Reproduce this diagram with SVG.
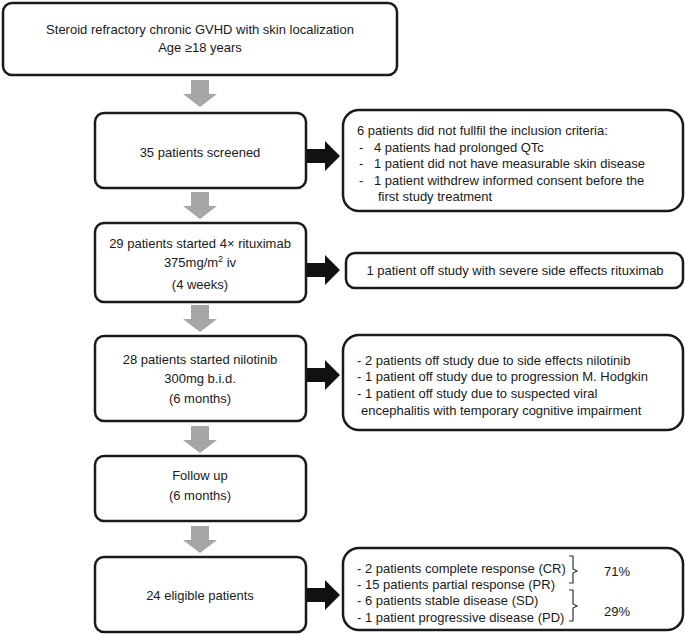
<svg xmlns="http://www.w3.org/2000/svg" width="685" height="634" viewBox="0 0 685 634">
<defs>
<style>
.box{fill:#fff;stroke:#1a1a1a;stroke-width:2.5}
.t{font-family:"Liberation Sans",Arial,sans-serif;font-size:13px;fill:#1a1a1a}
.c{text-anchor:middle}
.g{fill:#a6a6a6}
.k{fill:#111}
.br{fill:none;stroke:#333;stroke-width:1.2}
</style>
</defs>
<g id="connectors">
<polygon class="g" points="191,80 209,80 209,94 217,94 200,107 183,94 191,94"/>
<polygon class="g" points="191,192 209,192 209,206 217,206 200,219 183,206 191,206"/>
<polygon class="g" points="191,305 209,305 209,319 217,319 200,332 183,319 191,319"/>
<polygon class="g" points="191,426 209,426 209,440 217,440 200,453 183,440 191,440"/>
<polygon class="g" points="191,526 209,526 209,540 217,540 200,553 183,540 191,540"/>
<polygon class="k" points="307,149 325,149 325,141 340,156 325,171 325,163 307,163"/>
<polygon class="k" points="307,263 325,263 325,255 340,270 325,285 325,277 307,277"/>
<polygon class="k" points="307,368 325,368 325,360 340,375 325,390 325,382 307,382"/>
<polygon class="k" points="307,588 325,588 325,580 340,595 325,610 325,602 307,602"/>
</g>
<g id="n1">
<rect class="box" x="3" y="3" width="394" height="72" rx="9"/>
<text class="t c" x="200" y="34">Steroid refractory chronic GVHD with skin localization</text>
<text class="t c" x="200" y="52">Age ≥18 years</text>
</g>
<g id="n2">
<rect class="box" x="95" y="113" width="211" height="75" rx="9"/>
<text class="t c" x="200" y="157">35 patients screened</text>
</g>
<g id="n2r">
<rect class="box" x="343" y="110" width="340" height="101" rx="16"/>
<text class="t" x="357" y="135">6 patients did not fullfil the inclusion criteria:</text>
<text class="t" x="359" y="152">-</text><text class="t" x="374" y="152">4 patients had prolonged QTc</text>
<text class="t" x="359" y="168">-</text><text class="t" x="374" y="168">1 patient did not have measurable skin disease</text>
<text class="t" x="359" y="185">-</text><text class="t" x="374" y="185">1 patient withdrew informed consent before the</text>
<text class="t" x="378" y="201">first study treatment</text>
</g>
<g id="n3">
<rect class="box" x="95" y="223" width="211" height="79" rx="9"/>
<text class="t c" x="200" y="248">29 patients started 4× rituximab</text>
<text class="t c" x="200" y="267">375mg/m<tspan dy="-5" font-size="9">2</tspan><tspan dy="5"> iv</tspan></text>
<text class="t c" x="200" y="289">(4 weeks)</text>
</g>
<g id="n3r">
<rect class="box" x="346" y="253" width="337" height="35" rx="9"/>
<text class="t c" x="515" y="275">1 patient off study with severe side effects rituximab</text>
</g>
<g id="n4">
<rect class="box" x="95" y="336" width="211" height="85" rx="9"/>
<text class="t c" x="200" y="364">28 patients started nilotinib</text>
<text class="t c" x="200" y="383">300mg b.i.d.</text>
<text class="t c" x="200" y="403">(6 months)</text>
</g>
<g id="n4r">
<rect class="box" x="343" y="335" width="340" height="95" rx="16"/>
<text class="t" x="357" y="365">- 2 patients off study due to side effects nilotinib</text>
<text class="t" x="357" y="381">- 1 patient off study due to progression M. Hodgkin</text>
<text class="t" x="357" y="398">- 1 patient off study due to suspected viral</text>
<text class="t" x="361" y="415">encephalitis with temporary cognitive impairment</text>
</g>
<g id="n5">
<rect class="box" x="95" y="456" width="211" height="65" rx="9"/>
<text class="t c" x="200" y="480">Follow up</text>
<text class="t c" x="200" y="500">(6 months)</text>
</g>
<g id="n6">
<rect class="box" x="95" y="557" width="211" height="75" rx="9"/>
<text class="t c" x="200" y="600">24 eligible patients</text>
</g>
<g id="n6r">
<rect class="box" x="343" y="548" width="340" height="82" rx="16"/>
<text class="t" x="357" y="573">- 2 patients complete response (CR)</text>
<text class="t" x="357" y="589">- 15 patients partial response (PR)</text>
<text class="t" x="357" y="605">- 6 patients stable disease (SD)</text>
<text class="t" x="357" y="622">- 1 patient progressive disease (PD)</text>
<path class="br" d="M569,556 H573 V569 L577,571 L573,573 V583 H569"/>
<path class="br" d="M569,590 H573 V604 L577,606 L573,608 V621 H569"/>
<text class="t" x="604" y="576">71%</text>
<text class="t" x="604" y="616">29%</text>
</g>
</svg>
